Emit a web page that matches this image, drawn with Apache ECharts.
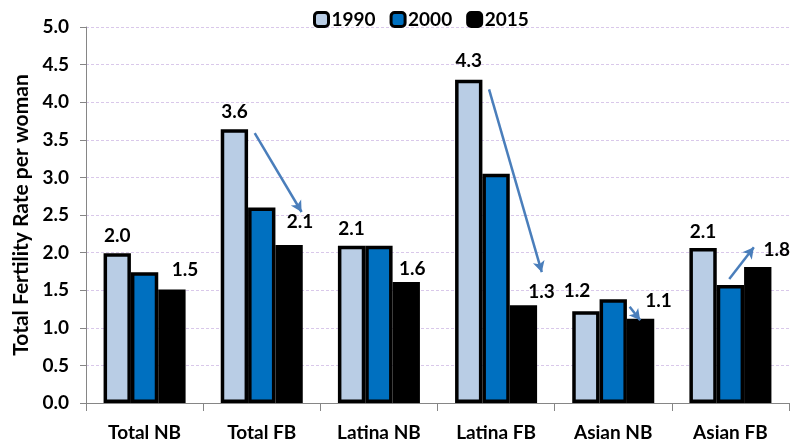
<!DOCTYPE html>
<html>
<head>
<meta charset="utf-8">
<script src="https://cdn.jsdelivr.net/npm/echarts@6/dist/echarts.min.js"></script>
<style>
  html, body { margin: 0; padding: 0; background: #fff; }
  #chart { width: 793px; height: 445px; }
</style>
</head>
<body>
<div id="chart"></div>
<script>
// data
const categories = ['Total NB', 'Total FB', 'Latina NB', 'Latina FB', 'Asian NB', 'Asian FB']
const years = ['1990', '2000', '2015']
const tfr1990 = [1.99, 3.64, 2.09, 4.30, 1.22, 2.06]
const tfr2000 = [1.74, 2.60, 2.09, 3.05, 1.38, 1.57]
const tfr2015 = [1.51, 2.10, 1.61, 1.30, 1.12, 1.81]
const labels1990 = ['2.0', '3.6', '2.1', '4.3', '1.2', '2.1']
const labels2015 = ['1.5', '2.1', '1.6', '1.3', '1.1', '1.8']
const yTicks = [0, 0.5, 1, 1.5, 2, 2.5, 3, 3.5, 4, 4.5, 5]

// arrows: [x0, y0, x1, y1] in (category index, value) units
const arrows = [
  [1.44, 3.59, 1.84, 2.54],
  [3.44, 4.17, 3.89, 1.74],
  [4.64, 1.28, 4.73, 1.10],
  [5.49, 1.65, 5.70, 2.07]
]

// label nudges (px)
const offsets1990 = [[0, -3], [0, -3], [0, -2], [0, -4], [-9, -6], [0, -2]]
const offsets2015 = [[13, -5], [11, -9], [6, 1], [18, 1], [18, -3], [19, -3]]

const colors = ['#b9cde5', '#0070c0', '#000000']
const font = 'Lato, "Liberation Sans", sans-serif'
const labelStyle = { fontFamily: font, fontWeight: 'bold', fontSize: 19, color: '#000' }

const chart = echarts.init(document.getElementById('chart'))

const makeData = (vals, texts, offs) => vals.map((v, i) => {
  if (!texts) return v
  return {
    value: v,
    label: { show: true, position: 'top', distance: 5, offset: offs[i], formatter: texts[i] }
  }
})

const barSeries = [tfr1990, tfr2000, tfr2015].map((vals, k) => ({
  name: years[k],
  type: 'bar',
  barGap: '0%',
  barCategoryGap: '30%',
  itemStyle: { color: colors[k], borderColor: '#000', borderWidth: 3.5 },
  label: labelStyle,
  data: makeData(vals, k === 0 ? labels1990 : k === 2 ? labels2015 : null, k === 0 ? offsets1990 : offsets2015)
}))

chart.setOption({
  animation: false,
  legend: {
    top: 5,
    left: 308,
    itemWidth: 14,
    itemHeight: 14,
    itemGap: 14,
    icon: 'roundRect',
    itemStyle: { borderColor: '#000', borderWidth: 3 },
    textStyle: { fontFamily: font, fontWeight: 'bold', fontSize: 19, color: '#000', padding: [0, 0, 0, -2] },
    data: years
  },
  grid: { left: 86, right: 4, top: 27, bottom: 42, containLabel: false },
  xAxis: [{
    type: 'category',
    data: categories,
    axisLine: { lineStyle: { color: '#868686', width: 1 } },
    axisTick: { show: true, length: 8, interval: 0, lineStyle: { color: '#868686' } },
    axisLabel: { margin: 20, interval: 0, fontFamily: font, fontWeight: 'bold', fontSize: 19, color: '#000' }
  }, {
    type: 'value',
    min: 0,
    max: categories.length,
    show: false
  }],
  yAxis: {
    type: 'value',
    min: yTicks[0],
    max: yTicks[yTicks.length - 1],
    interval: 0.5,
    name: 'Total Fertility Rate per woman',
    nameLocation: 'middle',
    nameGap: 54,
    nameTextStyle: { fontFamily: font, fontWeight: 'bold', fontSize: 21, color: '#000' },
    axisLine: { show: true, lineStyle: { color: '#868686' } },
    axisTick: { show: true, length: 6, lineStyle: { color: '#868686' } },
    axisLabel: { margin: 17, fontFamily: font, fontWeight: 'bold', fontSize: 19, color: '#000', formatter: v => v.toFixed(1) },
    splitLine: { lineStyle: { color: '#d9c8ea', type: [3, 2], width: 1 } }
  },
  series: barSeries.concat([{
    type: 'scatter',
    xAxisIndex: 1,
    data: [],
    silent: true,
    markLine: {
      silent: true,
      animation: false,
      symbol: ['none', 'arrow'],
      symbolSize: [9, 11],
      label: { show: false },
      lineStyle: { color: '#4a7ebb', width: 2.5, type: 'solid' },
      data: arrows.map(a => [{ coord: [a[0], a[1]] }, { coord: [a[2], a[3]] }])
    }
  }])
})
</script>
</body>
</html>
